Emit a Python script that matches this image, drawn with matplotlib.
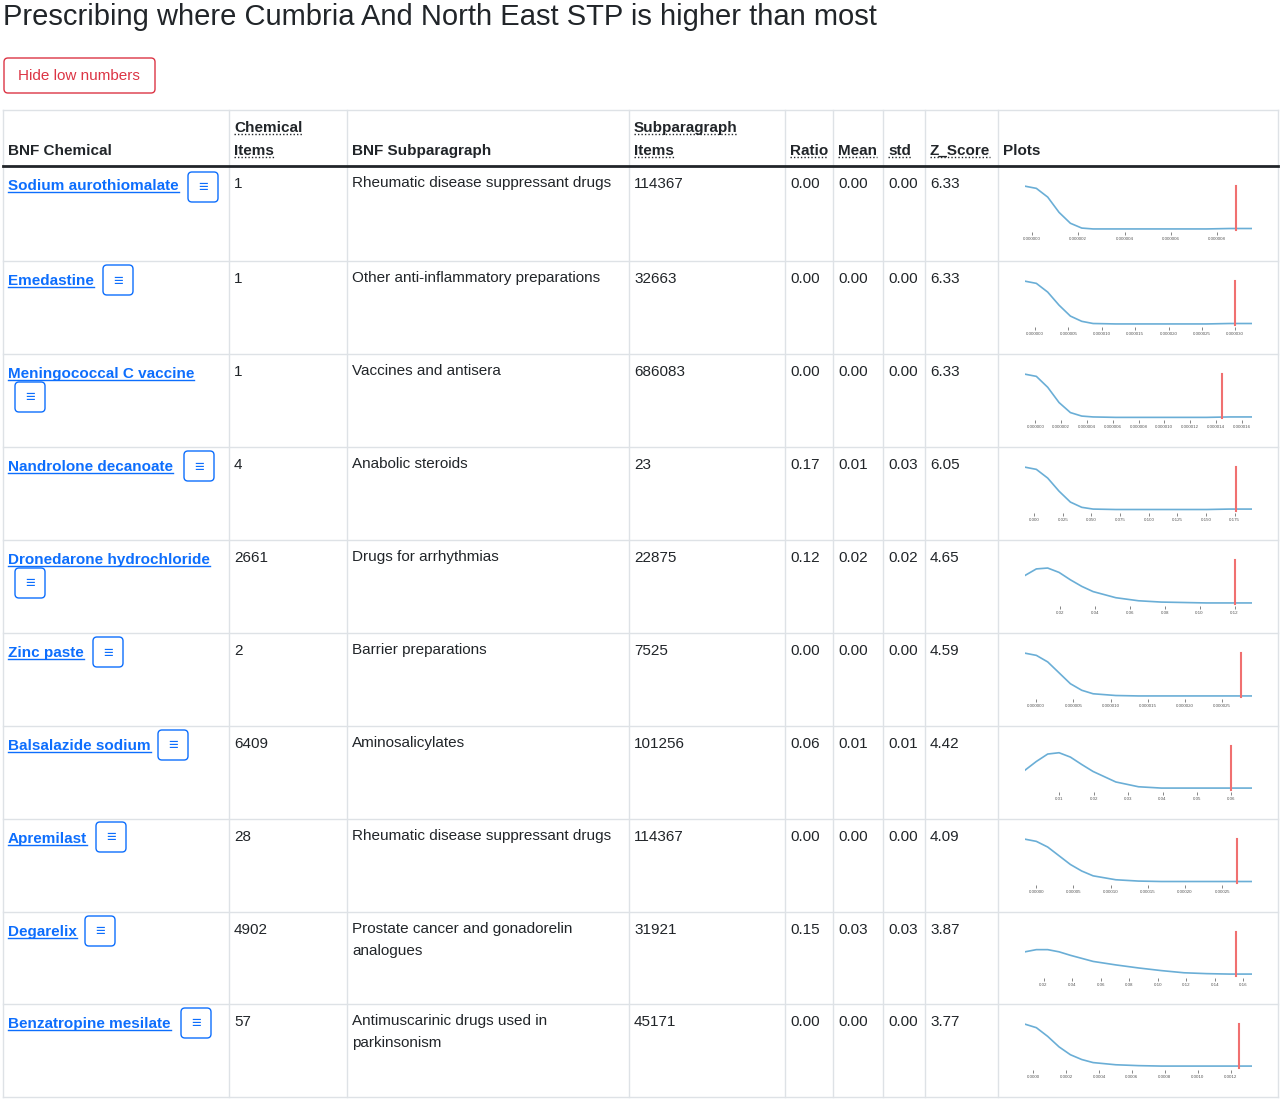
import matplotlib.pyplot as plt
from matplotlib.patches import FancyBboxPatch

plt.rcParams['font.family'] = ['Liberation Sans', 'DejaVu Sans']

names = ["Sodium aurothiomalate", "Emedastine", "Meningococcal C vaccine", "Nandrolone decanoate",
         "Dronedarone hydrochloride", "Zinc paste", "Balsalazide sodium", "Apremilast",
         "Degarelix", "Benzatropine mesilate"]
chem_items = ["1", "1", "1", "4", "2661", "2", "6409", "28", "4902", "57"]
subparas = ["Rheumatic disease suppressant drugs", "Other anti-inflammatory preparations",
            "Vaccines and antisera", "Anabolic steroids", "Drugs for arrhythmias",
            "Barrier preparations", "Aminosalicylates", "Rheumatic disease suppressant drugs",
            "Prostate cancer and gonadorelin\nanalogues", "Antimuscarinic drugs used in\nparkinsonism"]
sub_items = ["114367", "32663", "686083", "23", "22875", "7525", "101256", "114367", "31921", "45171"]
ratio = ["0.00", "0.00", "0.00", "0.17", "0.12", "0.00", "0.06", "0.00", "0.15", "0.00"]
mean = ["0.00", "0.00", "0.00", "0.01", "0.02", "0.00", "0.01", "0.00", "0.03", "0.00"]
std = ["0.00", "0.00", "0.00", "0.03", "0.02", "0.00", "0.01", "0.00", "0.03", "0.00"]
zscore = ["6.33", "6.33", "6.33", "6.05", "4.65", "4.59", "4.42", "4.09", "3.87", "3.77"]

# sparkline data: x range, tick values, red marker, density curve on a fractional grid
grid = [0.0, 0.05, 0.1, 0.15, 0.2, 0.25, 0.3, 0.4, 0.5, 0.6, 0.7, 0.8, 0.9, 1.0]
ranges = [(-0.0000003, 0.0000095), (-0.0000015, 0.0000325), (-0.0000008, 0.0000168),
          (-0.008, 0.19), (0.0, 0.13), (-0.0000015, 0.000029), (0.0, 0.066),
          (-0.000015, 0.00029), (0.007, 0.166), (-0.00005, 0.00133)]
ticks = [[0.000000, 0.000002, 0.000004, 0.000006, 0.000008],
         [0.000000, 0.000005, 0.000010, 0.000015, 0.000020, 0.000025, 0.000030],
         [0.000000, 0.000002, 0.000004, 0.000006, 0.000008, 0.000010, 0.000012, 0.000014, 0.000016],
         [0.000, 0.025, 0.050, 0.075, 0.100, 0.125, 0.150, 0.175],
         [0.02, 0.04, 0.06, 0.08, 0.10, 0.12],
         [0.000000, 0.000005, 0.000010, 0.000015, 0.000020, 0.000025],
         [0.01, 0.02, 0.03, 0.04, 0.05, 0.06],
         [0.00000, 0.00005, 0.00010, 0.00015, 0.00020, 0.00025],
         [0.02, 0.04, 0.06, 0.08, 0.10, 0.12, 0.14, 0.16],
         [0.0000, 0.0002, 0.0004, 0.0006, 0.0008, 0.0010, 0.0012]]
tick_fmt = ["%.6f", "%.6f", "%.6f", "%.3f", "%.2f", "%.6f", "%.2f", "%.5f", "%.2f", "%.4f"]
red_x = [0.0000088, 0.0000300, 0.0000145, 0.176, 0.120, 0.0000275, 0.060, 0.00027, 0.155, 0.00125]
curves = [
    [1.0, 0.95, 0.75, 0.4, 0.15, 0.04, 0.02, 0.02, 0.02, 0.02, 0.02, 0.02, 0.03, 0.03],
    [1.0, 0.95, 0.75, 0.45, 0.2, 0.08, 0.03, 0.02, 0.02, 0.02, 0.02, 0.02, 0.03, 0.03],
    [1.0, 0.95, 0.7, 0.35, 0.12, 0.04, 0.02, 0.01, 0.01, 0.01, 0.01, 0.01, 0.02, 0.02],
    [1.0, 0.95, 0.75, 0.45, 0.2, 0.08, 0.04, 0.03, 0.03, 0.03, 0.03, 0.03, 0.04, 0.04],
    [0.65, 0.8, 0.82, 0.72, 0.55, 0.4, 0.28, 0.14, 0.07, 0.04, 0.03, 0.02, 0.02, 0.02],
    [1.0, 0.95, 0.8, 0.55, 0.3, 0.15, 0.07, 0.03, 0.02, 0.02, 0.02, 0.02, 0.02, 0.02],
    [0.45, 0.65, 0.82, 0.85, 0.75, 0.58, 0.42, 0.18, 0.07, 0.04, 0.04, 0.04, 0.04, 0.04],
    [1.0, 0.95, 0.82, 0.62, 0.42, 0.27, 0.16, 0.07, 0.04, 0.03, 0.03, 0.03, 0.03, 0.03],
    [0.55, 0.6, 0.6, 0.55, 0.47, 0.4, 0.33, 0.25, 0.18, 0.12, 0.07, 0.05, 0.04, 0.04],
    [1.0, 0.92, 0.72, 0.48, 0.3, 0.19, 0.12, 0.07, 0.05, 0.04, 0.04, 0.04, 0.04, 0.04],
]

W, H = 1280, 1101
fig = plt.figure(figsize=(12.8, 11.01), dpi=100)
ax = fig.add_axes([0, 0, 1, 1])
ax.set_xlim(0, W)
ax.set_ylim(H, 0)
ax.axis("off")

txt = "#212529"
link = "#0d6efd"
grey = "#dee2e6"

ax.text(3, 17, "Prescribing where Cumbria And North East STP is higher than most",
        fontsize=21, color=txt, va="center", weight="medium")
ax.add_patch(FancyBboxPatch((4, 58), 151, 35, boxstyle="round,pad=0,rounding_size=4",
                            fc="white", ec="#dc3545", lw=1))
ax.text(79, 76, "Hide low numbers", fontsize=11, color="#dc3545", ha="center", va="center")

cols = [3, 229, 347, 629, 785, 833, 883, 925, 998, 1278]
row_tops = [166, 261, 354, 447, 540, 633, 726, 819, 912, 1004, 1097]

# grid
ax.plot([3, 1278], [110, 110], color=grey, lw=1)
for y in row_tops[1:]:
    ax.plot([3, 1278], [y, y], color=grey, lw=1)
for x in cols:
    ax.plot([x, x], [110, 1097], color=grey, lw=1)
ax.plot([3, 1278], [166, 166], color="#212529", lw=2)

# header
ax.text(8, 151, "BNF Chemical", fontsize=11, weight="bold", color=txt, va="center")
ax.text(352, 151, "BNF Subparagraph", fontsize=11, weight="bold", color=txt, va="center")
ax.text(1003, 151, "Plots", fontsize=11, weight="bold", color=txt, va="center")
dotted = [(234, 128, "Chemical"), (234, 151, "Items"), (634, 128, "Subparagraph"), (634, 151, "Items"),
          (790, 151, "Ratio"), (838, 151, "Mean"), (888, 151, "std"), (930, 151, "Z_Score")]
dot_texts = [ax.text(x, y, s, fontsize=11, weight="bold", color=txt, va="center") for x, y, s in dotted]

# menu button positions (x, y of box left/top)
btn_pos = [(188, 172), (103, 265), (15, 382), (184, 451), (15, 568),
           (93, 637), (158, 730), (96, 822), (85, 916), (181, 1008)]
link_texts = []
for i in range(10):
    top = row_tops[i]
    link_texts.append(ax.text(8, top + 20, names[i], fontsize=11, weight="bold", color=link, va="center"))
    ax.text(234, top + 18, chem_items[i], fontsize=11, color=txt, va="center")
    ax.text(352, top + 10, subparas[i], fontsize=11, color=txt, va="top", linespacing=1.75)
    ax.text(634, top + 18, sub_items[i], fontsize=11, color=txt, va="center")
    ax.text(790, top + 18, ratio[i], fontsize=11, color=txt, va="center")
    ax.text(838, top + 18, mean[i], fontsize=11, color=txt, va="center")
    ax.text(888, top + 18, std[i], fontsize=11, color=txt, va="center")
    ax.text(930, top + 18, zscore[i], fontsize=11, color=txt, va="center")
    bx, by = btn_pos[i]
    ax.add_patch(FancyBboxPatch((bx, by), 30, 30, boxstyle="round,pad=0,rounding_size=4",
                                fc="white", ec=link, lw=1))
    ax.text(bx + 15, by + 16, "≡", fontsize=12, color=link, ha="center", va="center")

    # sparkline
    lo, hi = ranges[i]
    sa = fig.add_axes([1025 / W, 1 - (top + 66) / H, 227 / W, 48 / H])
    xs = [lo + g * (hi - lo) for g in grid]
    sa.plot(xs, curves[i], color="#6aaed6", lw=1.2)
    sa.plot([red_x[i], red_x[i]], [0, 1.0], color="#f07070", lw=1.5)
    sa.set_xlim(lo, hi)
    sa.set_ylim(-0.05, 1.05)
    sa.set_yticks([])
    sa.set_xticks(ticks[i])
    sa.set_xticklabels([tick_fmt[i] % t for t in ticks[i]], fontsize=3.2, color="#555555")
    sa.tick_params(axis="x", length=2, width=0.5, color="#555555", pad=1.5, direction="out")
    for s in sa.spines.values():
        s.set_visible(False)
    sa.patch.set_alpha(0)

# underlines
fig.canvas.draw()
r = fig.canvas.get_renderer()
inv = ax.transData.inverted()
for t in link_texts:
    bb = t.get_window_extent(r)
    (x0, y0), (x1, y1) = inv.transform([(bb.x0, bb.y0), (bb.x1, bb.y1)])
    ax.plot([x0, x1], [y0 - 1, y0 - 1], color=link, lw=1)
for t in dot_texts:
    bb = t.get_window_extent(r)
    (x0, y0), (x1, y1) = inv.transform([(bb.x0, bb.y0), (bb.x1, bb.y1)])
    ax.plot([x0, x1], [y0 - 1, y0 - 1], color=txt, lw=1, ls=(0, (1, 1.5)))

fig.savefig("out.png", dpi=100)
